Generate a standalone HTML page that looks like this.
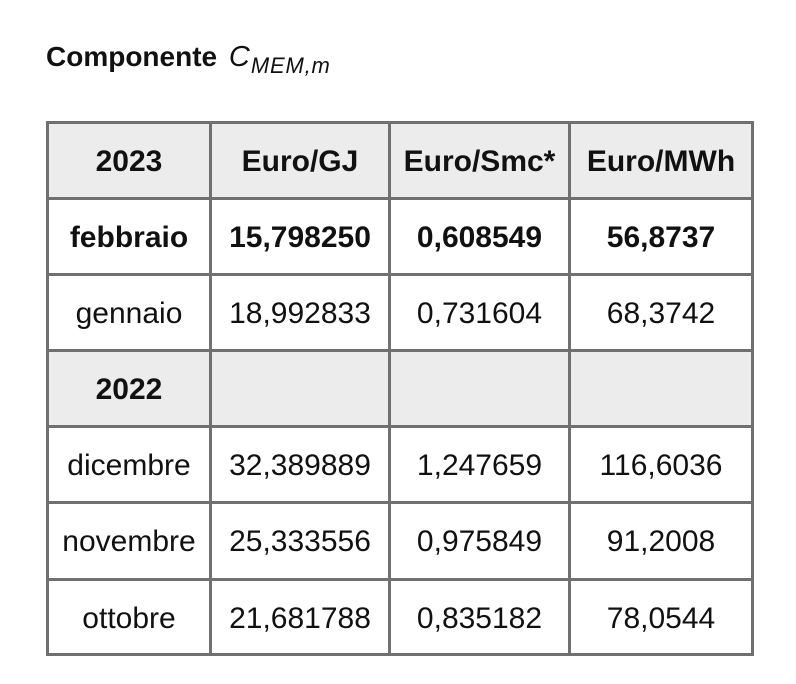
<!DOCTYPE html>
<html>
<head>
<meta charset="utf-8">
<style>
  html, body { margin:0; padding:0; background:#fff; }
  body { width:796px; height:684px; position:relative; overflow:hidden;
         font-family:"Liberation Sans", sans-serif; color:#111; }
  .title { position:absolute; left:46px; top:43px; font-size:28px; line-height:28px; font-weight:bold; white-space:nowrap; }
  .title .c { font-weight:normal; font-style:italic; font-size:29px; margin-left:4px; letter-spacing:1px; }
  .title .sub { font-weight:normal; font-style:italic; font-size:22px; position:relative; top:7px; letter-spacing:0.8px; }
  .cell { position:absolute; display:flex; align-items:center; justify-content:center;
          font-size:30px; padding-top:3px; box-sizing:border-box; white-space:nowrap; }
  .g { background:#ececec; }
  .b { font-weight:bold; }
  .v { position:absolute; top:121px; height:535px; width:3px; background:#707070; }
  .h { position:absolute; left:46px; width:708px; height:3px; background:#707070; }
</style>
</head>
<body>
<div class="title">Componente <span class="c">C</span><span class="sub">MEM,m</span></div>

<!-- row 1 header -->
<div class="cell g b" style="left:47px;top:122px;width:164px;height:77px;">2023</div>
<div class="cell g b" style="left:210px;top:122px;width:180px;height:77px;">Euro/GJ</div>
<div class="cell g b" style="left:389px;top:122px;width:181px;height:77px;">Euro/Smc*</div>
<div class="cell g b" style="left:569px;top:122px;width:184px;height:77px;">Euro/MWh</div>

<!-- row 2 -->
<div class="cell b" style="left:47px;top:198px;width:164px;height:77px;">febbraio</div>
<div class="cell b" style="left:210px;top:198px;width:180px;height:77px;">15,798250</div>
<div class="cell b" style="left:389px;top:198px;width:181px;height:77px;">0,608549</div>
<div class="cell b" style="left:569px;top:198px;width:184px;height:77px;">56,8737</div>

<!-- row 3 -->
<div class="cell" style="left:47px;top:274px;width:164px;height:77px;">gennaio</div>
<div class="cell" style="left:210px;top:274px;width:180px;height:77px;">18,992833</div>
<div class="cell" style="left:389px;top:274px;width:181px;height:77px;">0,731604</div>
<div class="cell" style="left:569px;top:274px;width:184px;height:77px;">68,3742</div>

<!-- row 4 -->
<div class="cell g b" style="left:47px;top:350px;width:164px;height:77px;">2022</div>
<div class="cell g" style="left:210px;top:350px;width:180px;height:77px;"></div>
<div class="cell g" style="left:389px;top:350px;width:181px;height:77px;"></div>
<div class="cell g" style="left:569px;top:350px;width:184px;height:77px;"></div>

<!-- row 5 -->
<div class="cell" style="left:47px;top:426px;width:164px;height:77px;">dicembre</div>
<div class="cell" style="left:210px;top:426px;width:180px;height:77px;">32,389889</div>
<div class="cell" style="left:389px;top:426px;width:181px;height:77px;">1,247659</div>
<div class="cell" style="left:569px;top:426px;width:184px;height:77px;">116,6036</div>

<!-- row 6 -->
<div class="cell" style="left:47px;top:502px;width:164px;height:77px;">novembre</div>
<div class="cell" style="left:210px;top:502px;width:180px;height:77px;">25,333556</div>
<div class="cell" style="left:389px;top:502px;width:181px;height:77px;">0,975849</div>
<div class="cell" style="left:569px;top:502px;width:184px;height:77px;">91,2008</div>

<!-- row 7 -->
<div class="cell" style="left:47px;top:579px;width:164px;height:76px;">ottobre</div>
<div class="cell" style="left:210px;top:579px;width:180px;height:76px;">21,681788</div>
<div class="cell" style="left:389px;top:579px;width:181px;height:76px;">0,835182</div>
<div class="cell" style="left:569px;top:579px;width:184px;height:76px;">78,0544</div>

<!-- grid lines -->
<div class="v" style="left:46px;"></div>
<div class="v" style="left:209px;"></div>
<div class="v" style="left:388px;"></div>
<div class="v" style="left:568px;"></div>
<div class="v" style="left:751px;"></div>

<div class="h" style="top:121px;"></div>
<div class="h" style="top:197px;"></div>
<div class="h" style="top:273px;"></div>
<div class="h" style="top:349px;"></div>
<div class="h" style="top:425px;"></div>
<div class="h" style="top:501px;"></div>
<div class="h" style="top:578px;"></div>
<div class="h" style="top:653px;"></div>
</body>
</html>
